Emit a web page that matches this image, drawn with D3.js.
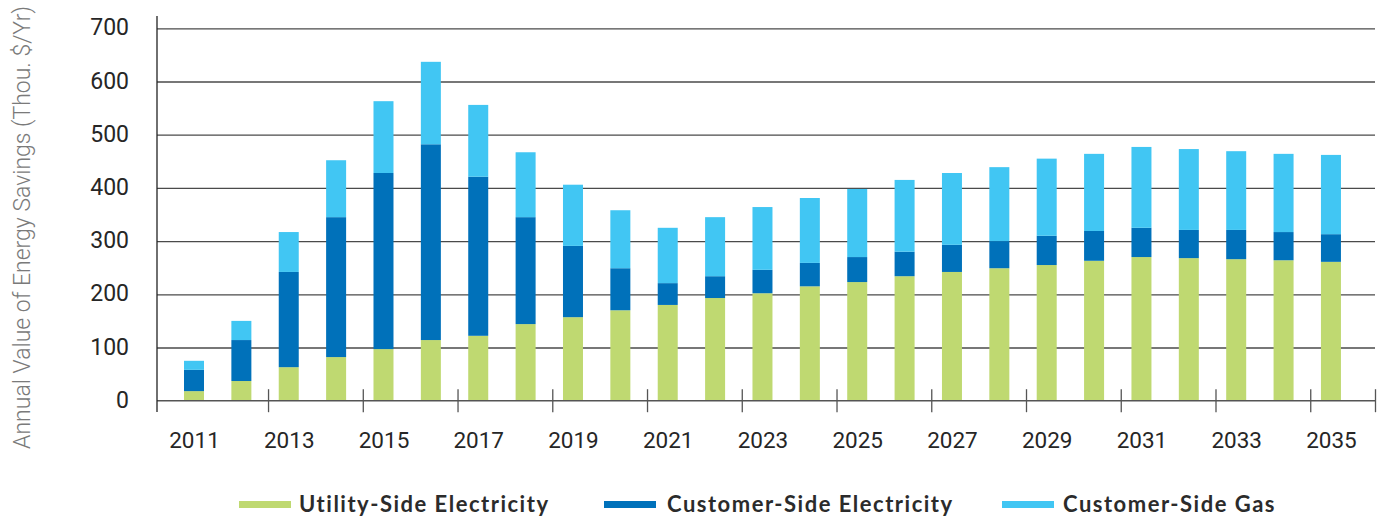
<!DOCTYPE html>
<html>
<head>
<meta charset="utf-8">
<script src="https://cdn.jsdelivr.net/npm/d3@7"></script>
<style>
  html, body { margin: 0; padding: 0; background: #fff; }
  svg { display: block; }
</style>
</head>
<body>
<svg id="chart" width="1380" height="520"></svg>
<script>
// ---- data ----
const years = [2011,2012,2013,2014,2015,2016,2017,2018,2019,2020,2021,2022,2023,2024,2025,2026,2027,2028,2029,2030,2031,2032,2033,2034,2035];
const utilityElec  = [18, 37, 63, 82, 97,114,122,144,157,170,180,193,202,215,223,234,242,249,255,263,270,268,266,264,261];
const customerElec = [40, 77,179,263,331,368,299,201,134, 79, 41, 41, 44, 44, 47, 46, 51, 51, 55, 56, 55, 53, 55, 53, 52];
const customerGas  = [17, 36, 75,107,135,155,135,122,115,109,104,111,118,122,128,135,135,139,145,145,152,152,148,147,149];
const yTicks = [0,100,200,300,400,500,600,700];
const xTickLabels = ["2011","2013","2015","2017","2019","2021","2023","2025","2027","2029","2031","2033","2035"];
const seriesNames = ["Utility-Side Electricity","Customer-Side Electricity","Customer-Side Gas"];
const seriesColors = ["#BFD971","#0071BA","#41C6F3"];
const yTitle = "Annual Value of Energy Savings (Thou. $/Yr)";

// ---- layout ----
const svg = d3.select("#chart");
const plotLeft = 157, plotRight = 1375, plotTop = 28.3, plotBottom = 400.7;

const x = d3.scaleLinear().domain([2010.219, 2035.93]).range([plotLeft, plotRight]);
const y = d3.scaleLinear().domain([0, 700]).range([plotBottom, plotTop]);
const barW = 20;

// gridlines
const grid = svg.append("g")
  .attr("transform", `translate(${plotLeft},0)`)
  .call(d3.axisLeft(y).tickValues(yTicks.filter(v => v > 0)).tickSize(-(plotRight - plotLeft)).tickFormat(""));
grid.select(".domain").remove();
grid.selectAll("line").attr("stroke", "#4a4a4a").attr("stroke-width", 1.3);

// y labels
const yAx = svg.append("g")
  .attr("transform", `translate(129,0)`)
  .call(d3.axisLeft(y).tickValues(yTicks).tickSize(0).tickPadding(0));
yAx.select(".domain").remove();
yAx.selectAll("text")
  .attr("font-family", "Roboto, sans-serif")
  .attr("font-size", "23px")
  .attr("fill", "#262626")
  .attr("text-anchor", "end")
  .attr("dy", "6.5px");

// stacked bars
const rows = years.map((yr, i) => ({year: yr, u: utilityElec[i], c: customerElec[i], g: customerGas[i]}));
const stack = d3.stack().keys(["u","c","g"])(rows);
svg.append("g").selectAll("g").data(stack).join("g")
  .attr("fill", (d, i) => seriesColors[i])
  .selectAll("rect").data(d => d).join("rect")
  .attr("x", d => x(d.data.year) - barW / 2)
  .attr("width", barW)
  .attr("y", d => y(d[1]))
  .attr("height", d => y(d[0]) - y(d[1]));

// x axis baseline
svg.append("line")
  .attr("x1", plotLeft).attr("x2", plotRight)
  .attr("y1", plotBottom).attr("y2", plotBottom)
  .attr("stroke", "#555").attr("stroke-width", 1.4);

// x tick marks (between year pairs) and axis end
const tickPos = d3.range(12).map(k => 2012.563 + 2 * k).concat([2035.93]);
const xt = svg.append("g")
  .attr("transform", `translate(0,${plotBottom - 11.5})`)
  .call(d3.axisBottom(x).tickValues(tickPos).tickSize(23).tickFormat(""));
xt.select(".domain").remove();
xt.selectAll("line").attr("stroke", "#555").attr("stroke-width", 1.3);

// x labels
const xl = svg.append("g")
  .attr("transform", `translate(0,448)`)
  .call(d3.axisBottom(x).tickValues(xTickLabels.map(Number)).tickSize(0).tickPadding(0).tickFormat(d => String(d)));
xl.select(".domain").remove();
xl.selectAll("text")
  .attr("font-family", "Roboto, sans-serif")
  .attr("font-size", "22.5px")
  .attr("fill", "#262626")
  .attr("dy", 0);

// y axis line
svg.append("line")
  .attr("x1", plotLeft).attr("x2", plotLeft)
  .attr("y1", 16).attr("y2", 412)
  .attr("stroke", "#222").attr("stroke-width", 1.3);

// y axis title
svg.append("text")
  .attr("transform", `translate(29.5,227.5) rotate(-90)`)
  .attr("text-anchor", "middle")
  .attr("font-family", "Roboto, sans-serif")
  .attr("font-weight", 300)
  .attr("font-size", "23px")
  .attr("fill", "#7a7a7a")
  .text(yTitle);

// legend
const legendX = [239, 604, 1002];
const lg = svg.append("g").selectAll("g").data(seriesNames).join("g")
  .attr("transform", (d, i) => `translate(${legendX[i]},0)`);
lg.append("rect").attr("x", 0).attr("y", 501).attr("width", 52).attr("height", 7)
  .attr("fill", (d, i) => seriesColors[i]);
lg.append("text")
  .attr("x", (d, i) => [60, 63, 61][i]).attr("y", 512)
  .attr("font-family", "Lato, sans-serif")
  .attr("font-weight", 700)
  .attr("font-size", "22px")
  .attr("letter-spacing", "1.5px")
  .attr("fill", "#2b2b2b")
  .text(d => d);
</script>
</body>
</html>
